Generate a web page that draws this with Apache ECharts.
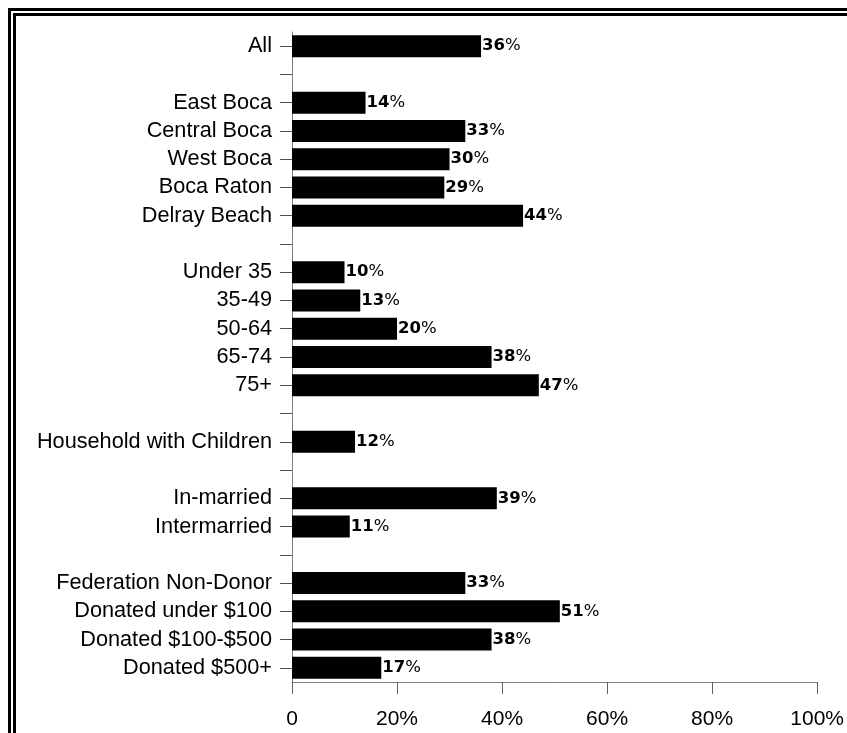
<!DOCTYPE html>
<html>
<head>
<meta charset="utf-8">
<script src="https://cdn.jsdelivr.net/npm/echarts@6/dist/echarts.min.js"></script>
<style>
html,body{margin:0;padding:0;width:847px;height:733px;overflow:hidden;background:#fff;}
#b1{position:absolute;left:8px;top:8px;width:900px;height:800px;border:3px solid #000;box-sizing:border-box;}
#b2{position:absolute;left:13px;top:13px;width:900px;height:800px;border:3px solid #000;box-sizing:border-box;}
#chart{position:absolute;left:0;top:0;width:847px;height:733px;}
</style>
</head>
<body>
<div id="b1"></div>
<div id="b2"></div>
<div id="chart"></div>
<script>
var categories = ['All', ' ', 'East Boca', 'Central Boca', 'West Boca', 'Boca Raton', 'Delray Beach', '  ',
  'Under 35', '35-49', '50-64', '65-74', '75+', '   ', 'Household with Children', '    ',
  'In-married', 'Intermarried', '     ', 'Federation Non-Donor', 'Donated under $100',
  'Donated $100-$500', 'Donated $500+'];
var values = [36, null, 14, 33, 30, 29, 44, null, 10, 13, 20, 38, 47, null, 12, null, 39, 11, null, 33, 51, 38, 17];
var xTickValues = [0, 20, 40, 60, 80, 100];
var xTickLabels = ['0', '20%', '40%', '60%', '80%', '100%'];

var chart = echarts.init(document.getElementById('chart'), null, {renderer: 'canvas'});
chart.setOption({
  backgroundColor: 'transparent',
  animation: false,
  grid: {left: 292, right: 29, top: 32, bottom: 51, containLabel: false},
  xAxis: {
    type: 'value', min: 0, max: 100, interval: 20,
    axisLine: {show: true, lineStyle: {color: '#808080', width: 1}},
    axisTick: {show: true, length: 12, lineStyle: {color: '#606060'}},
    splitLine: {show: false},
    axisLabel: {
      margin: 27, color: '#000', fontFamily: 'Liberation Sans, Arial', fontSize: 21,
      formatter: function (v) { var i = xTickValues.indexOf(v); return i >= 0 ? xTickLabels[i] : ''; }
    }
  },
  yAxis: {
    type: 'category', data: categories, inverse: true,
    axisLine: {show: true, lineStyle: {color: '#808080', width: 1}},
    axisTick: {show: true, alignWithLabel: true, length: 12, lineStyle: {color: '#505050'}},
    axisLabel: {margin: 20, color: '#000', fontFamily: 'Liberation Sans, Arial', fontSize: 21.7, interval: 0}
  },
  series: [{
    type: 'bar', data: values, barWidth: 22,
    itemStyle: {color: '#000'},
    label: {
      show: true, position: 'right', distance: 1,
      formatter: function (p) { return p.value == null ? '' : '{a|' + p.value + '}{b|%}'; },
      rich: {
        a: {fontFamily: 'DejaVu Sans', fontWeight: 'bold', fontSize: 16.5, color: '#000'},
        b: {fontFamily: 'DejaVu Sans', fontWeight: 'normal', fontSize: 16.5, color: '#000'}
      }
    }
  }]
});
</script>
</body>
</html>
